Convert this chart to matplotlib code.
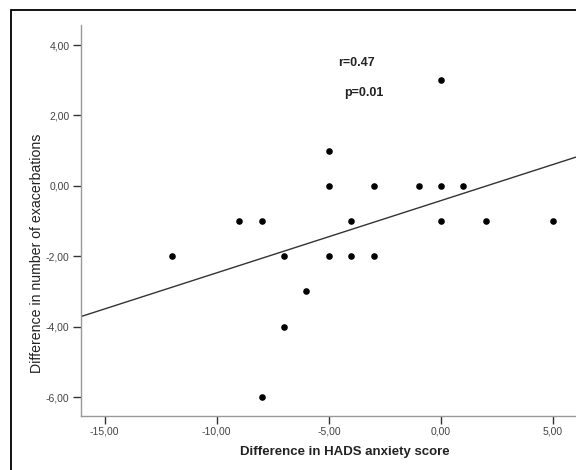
import numpy as np
import matplotlib
matplotlib.use("Agg")
import matplotlib.pyplot as plt
from matplotlib.patches import Rectangle
from matplotlib.ticker import FuncFormatter

# difference in HADS anxiety score vs difference in number of exacerbations
hads_diff = [0, -5, -5, -3, -1, 0, 1, -9, -8, -4, 0, 2, 5, -12, -7, -5, -4, -3, -6, -7, -8]
exac_diff = [3, 1, 0, 0, 0, 0, 0, -1, -1, -1, -1, -1, -1, -2, -2, -2, -2, -2, -3, -4, -6]

x_ticks = [-15, -10, -5, 0, 5]
y_ticks = [4, 2, 0, -2, -4, -6]

plt.rcParams["font.family"] = ["Liberation Sans", "DejaVu Sans"]

W, H = 576, 470
fig = plt.figure(figsize=(W / 100, H / 100), dpi=100)

# outer frame (cut off at right and bottom like the source)
fig.patches.append(Rectangle((11 / W, -0.1), 1.2, 1 - 10 / H + 0.1, transform=fig.transFigure,
                             fill=False, edgecolor="black", linewidth=1.3))

left, right, bottom, top = 80.7, 610, 415.7, 25
ax = fig.add_axes([left / W, 1 - bottom / H, (right - left) / W, (bottom - top) / H])
ax.set_facecolor("none")

ax.scatter(hads_diff, exac_diff, s=14, color="black", zorder=3)

slope, intercept = np.polyfit(hads_diff, exac_diff, 1)
xlim = (-16.07, 7.54)
xx = np.array(xlim)
ax.plot(xx, intercept + slope * xx, color="#333333", linewidth=1.0)

ax.set_xlim(*xlim)
ax.set_ylim(-6.53, 4.57)
ax.set_xticks(x_ticks)
ax.set_yticks(y_ticks)
fmt = FuncFormatter(lambda v, _: f"{v:.2f}".replace(".", ","))
ax.xaxis.set_major_formatter(fmt)
ax.yaxis.set_major_formatter(fmt)
ax.tick_params(axis="both", direction="out", length=6, width=1, color="#333333",
               labelsize=7.5, labelcolor="#444444", pad=2)

for s in ["top", "right"]:
    ax.spines[s].set_visible(False)
for s in ["left", "bottom"]:
    ax.spines[s].set_color("#999999")
    ax.spines[s].set_linewidth(1.0)

ax.text(-3.77, 3.49, "r=0.47", ha="center", va="center", fontsize=9, fontweight="bold", color="#222222")
ax.text(-3.46, 2.64, "p=0.01", ha="center", va="center", fontsize=9, fontweight="bold", color="#222222")

fig.text(345 / W, 1 - 451.7 / H, "Difference in HADS anxiety score", ha="center", va="center",
         fontsize=9.5, fontweight="bold", color="#222222")
fig.text(37 / W, 1 - 253 / H, "Difference in number of exacerbations", ha="center", va="center",
         rotation=90, fontsize=10.2, color="#222222")

fig.savefig("out.png", dpi=100)
